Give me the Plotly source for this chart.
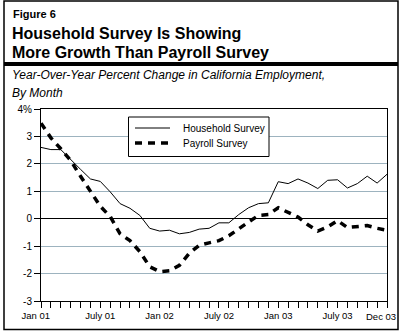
import plotly.graph_objects as go

# ---- data ----
month_labels = ["Jan 01", "July 01", "Jan 02", "July 02", "Jan 03", "July 03", "Dec 03"]
label_positions = [0, 6, 12, 18, 24, 30, 35]
household = [2.60, 2.52, 2.52, 2.15, 1.80, 1.45, 1.36, 0.98, 0.55, 0.38, 0.12, -0.35,
             -0.45, -0.42, -0.55, -0.50, -0.38, -0.35, -0.15, -0.15, 0.15, 0.40, 0.55, 0.58,
             1.35, 1.28, 1.45, 1.30, 1.10, 1.40, 1.42, 1.12, 1.28, 1.55, 1.30, 1.62]
payroll = [3.48, 2.95, 2.55, 2.12, 1.55, 0.98, 0.45, 0.08, -0.55, -0.80, -1.20, -1.75,
           -1.93, -1.90, -1.70, -1.26, -0.97, -0.88, -0.80, -0.62, -0.36, -0.12, 0.12, 0.15,
           0.40, 0.24, 0.06, -0.22, -0.45, -0.30, -0.07, -0.32, -0.30, -0.25, -0.35, -0.42]
y_ticks = [-3, -2, -1, 0, 1, 2, 3, 4]
y_ticktext = ["-3", "-2", "-1", "0", "1", "2", "3", "4%"]

months = list(range(len(household)))

FONT = "Liberation Sans, Arial, sans-serif"
DASH = "7px,6px"

# plot-area pixel geometry
L, R, T, B = 41, 387, 109, 301
W, H = R - L, B - T


def fx(px):
    return (px - L) / W


def fy(py):
    return (B - py) / H


fig = go.Figure()
fig.add_trace(go.Scatter(x=months, y=household, mode="lines", name="Household Survey",
                         line=dict(color="black", width=1)))
fig.add_trace(go.Scatter(x=months, y=payroll, mode="lines", name="Payroll Survey",
                         line=dict(color="black", width=3.5, dash=DASH)))

NB = "\u00a0"
last = months[-1]
ticktext = []
for m in months:
    if m in label_positions and m != last:
        t = month_labels[label_positions.index(m)]
        if m == 0:
            t = t + NB * 4
        ticktext.append(t)
    else:
        ticktext.append("")

fig.update_layout(
    width=402, height=332,
    margin=dict(l=L, r=402 - R, t=T, b=332 - B, pad=0, autoexpand=False),
    paper_bgcolor="white", plot_bgcolor="white",
    showlegend=False,
    font=dict(family=FONT, color="black"),
    xaxis=dict(range=[0, 35], tickvals=months, ticktext=ticktext, automargin=False,
               ticks="outside", ticklen=6, tickwidth=1, tickcolor="black",
               showline=True, linecolor="black", linewidth=1, mirror=True,
               showgrid=False, zeroline=False, tickfont=dict(size=9.5, family=FONT)),
    yaxis=dict(range=[-3, 4], tickvals=y_ticks, ticktext=y_ticktext, automargin=False,
               ticks="outside", ticklen=6, tickwidth=1, tickcolor="black",
               showline=True, linecolor="black", linewidth=1, mirror=True,
               showgrid=True, gridcolor="#9db3bf", gridwidth=1,
               zeroline=True, zerolinecolor="black", zerolinewidth=1,
               tickfont=dict(size=10, family=FONT)),
)

shapes = []
# outer border
shapes.append(dict(type="rect", xref="paper", yref="paper",
                   x0=fx(4), x1=fx(398), y0=fy(329.5), y1=fy(1),
                   line=dict(color="black", width=1.5), layer="above"))
# thick bar under title
shapes.append(dict(type="rect", xref="paper", yref="paper",
                   x0=fx(4), x1=fx(398), y0=fy(66), y1=fy(62),
                   line=dict(width=0), fillcolor="black", layer="above"))
# legend box
shapes.append(dict(type="rect", xref="paper", yref="paper",
                   x0=fx(128.5), x1=fx(269), y0=fy(156.5), y1=fy(117),
                   line=dict(color="black", width=1), fillcolor="white", layer="above"))
shapes.append(dict(type="line", xref="paper", yref="paper",
                   x0=fx(135), x1=fx(170), y0=fy(128), y1=fy(128),
                   line=dict(color="black", width=1), layer="above"))
shapes.append(dict(type="line", xref="paper", yref="paper",
                   x0=fx(135), x1=fx(172), y0=fy(143), y1=fy(143),
                   line=dict(color="black", width=3.5, dash=DASH), layer="above"))
fig.update_layout(shapes=shapes)

annotations = [
    dict(text="<b>Figure 6</b>", x=fx(11), y=fy(13.5), size=11),
    dict(text="<b>Household Survey Is Showing</b>", x=fx(10), y=fy(33.5), size=16),
    dict(text="<b>More Growth Than Payroll Survey</b>", x=fx(10), y=fy(52.5), size=16),
    dict(text="<i>Year-Over-Year Percent Change in California Employment,</i>", x=fx(10), y=fy(75.5), size=12),
    dict(text="<i>By Month</i>", x=fx(10), y=fy(93.5), size=12),
    dict(text="Household Survey", x=fx(181), y=fy(128), size=10),
    dict(text="Payroll Survey", x=fx(181), y=fy(143), size=10),
]
for a in annotations:
    fig.add_annotation(text=a["text"], xref="paper", yref="paper", x=a["x"], y=a["y"],
                       xanchor="left", yanchor="middle", showarrow=False,
                       font=dict(family=FONT, size=a["size"], color="black"))

# last month label, nudged inward so it stays inside the frame
fig.add_annotation(text=month_labels[-1], xref="x", yref="paper", x=last, y=fy(316),
                   xanchor="center", yanchor="middle", xshift=-6, showarrow=False,
                   font=dict(family=FONT, size=9.5, color="black"))

fig.write_html("out.html")
